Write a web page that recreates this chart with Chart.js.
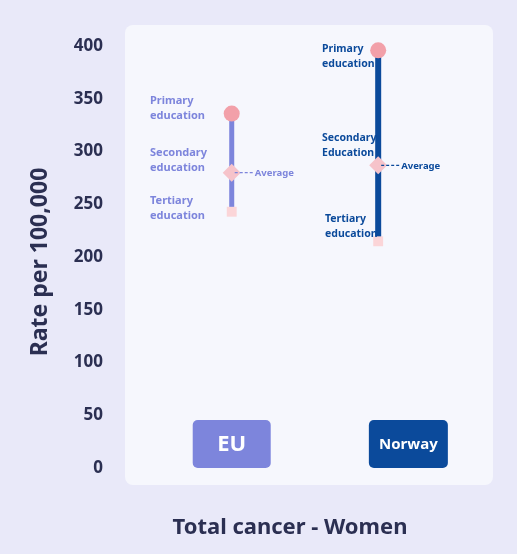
<!DOCTYPE html>
<html>
<head>
<meta charset="utf-8">
<script src="https://cdn.jsdelivr.net/npm/chart.js@4"></script>
<style>
  html, body { margin: 0; padding: 0; background: #e9e9f9; }
  #wrap { width: 517px; height: 554px; }
</style>
</head>
<body>
<div id="wrap"><canvas id="chart"></canvas></div>
<script>
// Data
const groups = ["EU", "Norway"];
const groupPos = [0.29, 0.688];
const boxPos = [0.29, 0.77];
const primary = [336, 396];
const secondary = [280, 287];
const tertiary = [243, 215];
const yTicks = [0, 50, 100, 150, 200, 250, 300, 350, 400];

const lineColors = ["#7d85dc", "#0b4a9b"];
const labelSets = [
  { x: 150, primary: ["Primary", "education"], secondary: ["Secondary", "education"], tertiary: ["Tertiary", "education"] },
  { x: 322, primary: ["Primary", "education"], secondary: ["Secondary", "Education"], tertiary: ["Tertiary", "education"] }
];

const datasets = [];
groups.forEach((g, i) => {
  datasets.push({
    type: "line",
    order: 2,
    data: [{ x: groupPos[i], y: tertiary[i] }, { x: groupPos[i], y: primary[i] }],
    borderColor: lineColors[i],
    borderWidth: i === 0 ? 5 : 6,
    pointRadius: 0
  });
});
datasets.push({
  type: "scatter", order: 1,
  data: groups.map((g, i) => ({ x: groupPos[i], y: tertiary[i] })),
  pointStyle: "rect", pointRadius: 7, backgroundColor: "#fbd5d8", borderWidth: 0
});
datasets.push({
  type: "scatter", order: 1,
  data: groups.map((g, i) => ({ x: groupPos[i], y: secondary[i] })),
  pointStyle: "rectRot", pointRadius: 9, backgroundColor: "#f6c3ca", borderWidth: 0
});
datasets.push({
  type: "scatter", order: 0,
  data: groups.map((g, i) => ({ x: groupPos[i], y: primary[i] })),
  pointStyle: "circle", pointRadius: 8, backgroundColor: "#f2a0a9", borderWidth: 0
});

const decor = {
  id: "decor",
  beforeDraw(chart) {
    const { ctx, chartArea: a } = chart;
    ctx.save();
    ctx.fillStyle = "#f6f7fd";
    ctx.beginPath();
    ctx.roundRect(a.left, a.top, a.right - a.left, a.bottom - a.top, 8);
    ctx.fill();
    ctx.restore();
  },
  afterDatasetsDraw(chart) {
    const { ctx, scales: { x, y } } = chart;
    ctx.save();
    // group label boxes
    groups.forEach((g, i) => {
      const cx = x.getPixelForValue(boxPos[i]);
      const w = i === 0 ? 78 : 79, h = 48;
      ctx.fillStyle = lineColors[i];
      ctx.beginPath();
      ctx.roundRect(cx - w / 2, 420, w, h, 5);
      ctx.fill();
      ctx.fillStyle = "#fff";
      ctx.textAlign = "center";
      ctx.textBaseline = "middle";
      ctx.font = i === 0 ? "bold 22px 'Noto Sans'" : "bold 15px 'Noto Sans'";
      ctx.fillText(g, cx, 445);
    });
    // education labels
    ctx.textAlign = "left";
    groups.forEach((g, i) => {
      const ls = labelSets[i];
      ctx.fillStyle = lineColors[i];
      ctx.font = i === 0 ? "bold 11px 'Noto Sans'" : "bold 10.5px 'Noto Sans'";
      ctx.textBaseline = "alphabetic";
      const cx = x.getPixelForValue(groupPos[i]);
      const put = (lines, top, dx = 0) => lines.forEach((t, k) => ctx.fillText(t, ls.x + dx, top + k * 15));
      if (i === 0) {
        put(ls.primary, 104); put(ls.secondary, 156); put(ls.tertiary, 204);
      } else {
        put(ls.primary, 52); put(ls.secondary, 141); put(ls.tertiary, 222, 3);
      }
      const sy = y.getPixelForValue(secondary[i]);
      ctx.strokeStyle = lineColors[i];
      ctx.lineWidth = 1.2;
      ctx.setLineDash([3, 2]);
      ctx.beginPath();
      ctx.moveTo(cx + 3, sy);
      ctx.lineTo(cx + 22, sy);
      ctx.stroke();
      ctx.setLineDash([]);
      ctx.font = "bold 9.5px 'Noto Sans'";
      ctx.textBaseline = "middle";
      ctx.fillText("Average", cx + 23, sy + 1);
    });
    // titles
    ctx.fillStyle = "#2b2f52";
    ctx.font = "bold 22px 'Noto Sans'";
    ctx.textAlign = "center";
    ctx.textBaseline = "middle";
    ctx.fillText("Total cancer - Women", 290, 528);
    ctx.translate(40, 262);
    ctx.rotate(-Math.PI / 2);
    ctx.font = "bold 23px 'Noto Sans'";
    ctx.fillText("Rate per 100,000", 0, 0);
    ctx.restore();
  }
};

new Chart(document.getElementById("chart"), {
  data: { datasets },
  options: {
    responsive: true,
    maintainAspectRatio: false,
    animation: false,
    layout: { padding: { top: 25, right: 24, bottom: 0, left: 0 } },
    plugins: { legend: { display: false }, tooltip: { enabled: false } },
    scales: {
      x: {
        type: "linear", min: 0, max: 1,
        display: true,
        grid: { display: false }, border: { display: false },
        ticks: { display: false },
        afterFit(s) { s.height = 69; }
      },
      y: {
        min: -16, max: 420,
        grid: { display: false }, border: { display: false },
        afterBuildTicks(s) { s.ticks = yTicks.map(v => ({ value: v })); },
        afterFit(s) { s.width = 125; },
        ticks: {
          color: "#2b2f52", padding: 14,
          font: { family: "Noto Sans", size: 17, weight: "bold" }
        }
      }
    }
  },
  plugins: [decor]
});
</script>
</body>
</html>
